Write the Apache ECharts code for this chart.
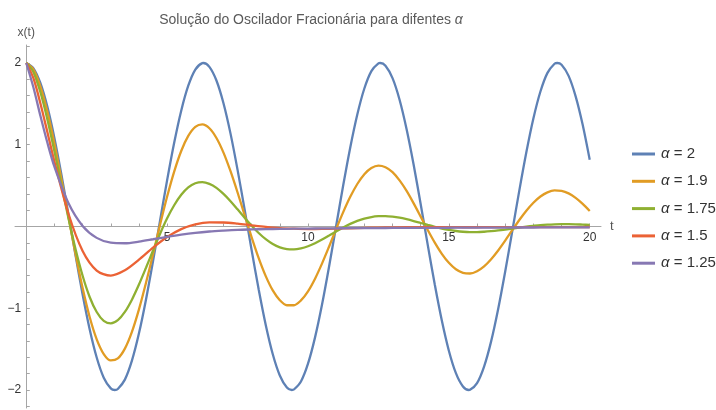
<!DOCTYPE html>
<html>
<head>
<meta charset="utf-8">
<script src="https://cdn.jsdelivr.net/npm/echarts@6/dist/echarts.min.js"></script>
<style>
html, body { margin: 0; padding: 0; background: #fff; }
#main { width: 716px; height: 410px; }
</style>
</head>
<body>
<div id="main"></div>
<script>
// t com passo 0.25 (curvas oscilantes)
var tFine = [0, 0.25, 0.5, 0.75, 1, 1.25, 1.5, 1.75, 2, 2.25,
	2.5, 2.75, 3, 3.25, 3.5, 3.75, 4, 4.25, 4.5, 4.75,
	5, 5.25, 5.5, 5.75, 6, 6.25, 6.5, 6.75, 7, 7.25,
	7.5, 7.75, 8, 8.25, 8.5, 8.75, 9, 9.25, 9.5, 9.75,
	10, 10.25, 10.5, 10.75, 11, 11.25, 11.5, 11.75, 12, 12.25,
	12.5, 12.75, 13, 13.25, 13.5, 13.75, 14, 14.25, 14.5, 14.75,
	15, 15.25, 15.5, 15.75, 16, 16.25, 16.5, 16.75, 17, 17.25,
	17.5, 17.75, 18, 18.25, 18.5, 18.75, 19, 19.25, 19.5, 19.75,
	20];
// t para alpha = 2 (passo 0.25 + picos)
var tAlpha200 = [0, 0.25, 0.5, 0.75, 1, 1.25, 1.5, 1.75, 2, 2.25,
	2.5, 2.75, 3, 3.1416, 3.25, 3.5, 3.75, 4, 4.25, 4.5, 4.75,
	5, 5.25, 5.5, 5.75, 6, 6.25, 6.2832, 6.5, 6.75, 7, 7.25,
	7.5, 7.75, 8, 8.25, 8.5, 8.75, 9, 9.25, 9.4248, 9.5, 9.75,
	10, 10.25, 10.5, 10.75, 11, 11.25, 11.5, 11.75, 12, 12.25,
	12.5, 12.5664, 12.75, 13, 13.25, 13.5, 13.75, 14, 14.25, 14.5, 14.75,
	15, 15.25, 15.5, 15.708, 15.75, 16, 16.25, 16.5, 16.75, 17, 17.25,
	17.5, 17.75, 18, 18.25, 18.5, 18.75, 18.8496, 19, 19.25, 19.5, 19.75,
	20];
// t mais espacado (curvas amortecidas)
var tCoarse = [0, 0.25, 0.5, 0.75, 1, 1.5, 2, 2.5, 3, 3.5, 4, 4.5, 5, 5.5, 6, 6.5, 7, 7.5, 8, 8.5, 9, 9.5,
	10, 10.5, 11, 11.5, 12, 12.5, 13, 13.5, 14, 14.5, 15, 15.5, 16, 16.5, 17, 17.5, 18, 18.5, 19, 19.5, 20];

// x(t) para cada alpha
var xAlpha200 = [2, 1.938, 1.755, 1.463, 1.081, 0.631, 0.141, -0.356, -0.832, -1.256,
	-1.602, -1.849, -1.980, -2, -1.988, -1.873, -1.641, -1.307, -0.892, -0.422, 0.075,
	0.567, 1.024, 1.417, 1.722, 1.920, 1.999, 2, 1.953, 1.786, 1.508, 1.136,
	0.693, 0.208, -0.291, -0.771, -1.204, -1.562, -1.822, -1.970, -2, -1.994, -1.895,
	-1.678, -1.356, -0.951, -0.486, 0.009, 0.504, 0.967, 1.370, 1.688, 1.901,
	1.996, 2, 1.966, 1.815, 1.551, 1.190, 0.756, 0.273, -0.225, -0.710, -1.150,
	-1.519, -1.794, -1.957, -2, -1.998, -1.915, -1.713, -1.405, -1.009, -0.550, -0.058,
	0.439, 0.908, 1.321, 1.651, 1.879, 1.990, 2, 1.977, 1.842, 1.592, 1.244,
	0.816];
var xAlpha190 = [2, 1.922, 1.715, 1.403, 1.013, 0.573, 0.112, -0.339, -0.753, -1.107,
	-1.380, -1.560, -1.638, -1.614, -1.494, -1.289, -1.014, -0.689, -0.336, 0.023,
	0.366, 0.672, 0.924, 1.108, 1.219, 1.249, 1.202, 1.083, 0.904, 0.676,
	0.416, 0.140, -0.132, -0.387, -0.607, -0.782, -0.902, -0.963, -0.963, -0.904,
	-0.793, -0.638, -0.451, -0.244, -0.030, 0.176, 0.363, 0.520, 0.640, 0.715,
	0.744, 0.725, 0.665, 0.564, 0.435, 0.283, 0.121, -0.043, -0.197, -0.334,
	-0.444, -0.523, -0.566, -0.575, -0.547, -0.488, -0.400, -0.293, -0.172, -0.045,
	0.079, 0.193, 0.291, 0.367, 0.418, 0.441, 0.436, 0.405, 0.350, 0.276,
	0.189];
var xAlpha175 = [2, 1.891, 1.645, 1.309, 0.918, 0.505, 0.098, -0.278, -0.602, -0.862,
	-1.046, -1.154, -1.185, -1.146, -1.045, -0.895, -0.710, -0.505, -0.294, -0.088,
	0.100, 0.260, 0.388, 0.478, 0.529, 0.543, 0.522, 0.473, 0.399, 0.310,
	0.210, 0.108, 0.010, -0.079, -0.155, -0.214, -0.255, -0.277, -0.281, -0.268,
	-0.242, -0.204, -0.159, -0.110, -0.060, -0.011, 0.032, 0.068, 0.097, 0.116,
	0.126, 0.128, 0.121, 0.108, 0.089, 0.067, 0.043, 0.019, -0.004, -0.025,
	-0.042, -0.055, -0.064, -0.068, -0.068, -0.064, -0.057, -0.048, -0.037, -0.025,
	-0.013, -0.002, 0.008, 0.017, 0.023, 0.027, 0.029, 0.029, 0.027, 0.023,
	0.019];
var xAlpha150 = [2, 1.817, 1.508, 1.153, 0.793, 0.153, -0.299, -0.539, -0.600, -0.536, -0.406, -0.259, -0.129, -0.032, 0.026, 0.050,
	0.049, 0.035, 0.015, -0.004, -0.019, -0.027, -0.031, -0.030, -0.026, -0.022, -0.017, -0.014, -0.011, -0.009, -0.009, -0.008,
	-0.008, -0.009, -0.009, -0.008, -0.008, -0.008, -0.008, -0.007, -0.007, -0.007, -0.006];
var xAlpha125 = [2, 1.706, 1.356, 1.024, 0.731, 0.284, 0.007, -0.139, -0.198, -0.205, -0.185, -0.156, -0.126, -0.099, -0.077, -0.061,
	-0.050, -0.041, -0.036, -0.032, -0.029, -0.027, -0.025, -0.024, -0.022, -0.021, -0.020, -0.019, -0.018, -0.017, -0.016, -0.016,
	-0.015, -0.014, -0.014, -0.013, -0.013, -0.012, -0.012, -0.011, -0.011, -0.011, -0.010];

var seriesNames = ['α = 2', 'α = 1.9', 'α = 1.75', 'α = 1.5', 'α = 1.25'];
var seriesColors = ['#5E81B5', '#E19C24', '#8FB032', '#EB6235', '#8778B3'];
var xTickLabels = [5, 10, 15, 20];
var yTickLabels = [-2, -1, 1, 2];

var fonte = '"Liberation Sans", Arial, sans-serif';
var corEixo = '#a6a6a6';
var corTexto = '#333';

// faixa dos eixos e tamanho da area do grafico
var xMin = -0.4, xMax = 20.4, yMin = -2.22, yMax = 2.22;
var gridLeft = 15, gridRight = 115, gridTop = 45, gridBottom = 2;
var plotW = 716 - gridLeft - gridRight;
var plotH = 410 - gridTop - gridBottom;

// ticks menores
var xTicks = [];
for (var i = 1; i <= 20; i++) xTicks.push(i);
var yTicks = [];
for (var k = -11; k <= 11; k++) { if (k != 0) yTicks.push(Math.round(k * 20) / 100); }

function pares(ts, ys) {
	return ts.map(function(t, i) { return [t, ys[i]]; });
}

var dados = [[tAlpha200, xAlpha200], [tFine, xAlpha190], [tFine, xAlpha175], [tCoarse, xAlpha150], [tCoarse, xAlpha125]];
var listaSeries = [];
for (var s = 0; s < dados.length; s++) {
	listaSeries.push({
		name: seriesNames[s],
		type: 'line',
		data: pares(dados[s][0], dados[s][1]),
		smooth: 0.3,
		symbol: 'none',
		lineStyle: { width: 2.3, color: seriesColors[s] },
		itemStyle: { color: seriesColors[s] },
		emphasis: { disabled: true }
	});
}

var myChart = echarts.init(document.getElementById('main'));
var option = {
	animation: false,
	title: {
		text: 'Solução do Oscilador Fracionária para difentes {i|α}',
		left: 306,
		textAlign: 'center',
		top: 8,
		textStyle: {
			fontFamily: fonte, fontSize: 14, fontWeight: 'normal', color: '#5a5a5a',
			rich: { i: { fontFamily: fonte, fontSize: 14, fontStyle: 'italic', color: '#5a5a5a' } }
		}
	},
	legend: {
		data: seriesNames,
		orient: 'vertical',
		left: 627,
		top: 140,
		icon: 'rect',
		itemWidth: 23,
		itemHeight: 3,
		itemGap: 9.3,
		formatter: function(name) { return name.replace('α', '{i|α}'); },
		textStyle: {
			fontFamily: fonte, fontSize: 15, color: corTexto, lineHeight: 18, padding: [0, 0, 0, 1],
			rich: { i: { fontFamily: fonte, fontSize: 15, fontStyle: 'italic', color: corTexto, lineHeight: 18 } }
		}
	},
	grid: {
		left: gridLeft, right: gridRight, top: gridTop, bottom: gridBottom,
		containLabel: false, outerBoundsMode: 'none'
	},
	xAxis: {
		type: 'value',
		min: xMin,
		max: xMax,
		position: 'bottom',
		// eixo passa por x = 0
		offset: -plotH * (0 - yMin) / (yMax - yMin),
		name: 't',
		nameLocation: 'end',
		nameGap: 9,
		nameTextStyle: { fontFamily: fonte, fontSize: 13, color: '#555' },
		axisLine: { onZero: false, lineStyle: { color: corEixo, width: 1 } },
		axisTick: { show: true, inside: true, length: 3, customValues: xTicks, lineStyle: { color: corEixo } },
		axisLabel: {
			customValues: xTickLabels,
			margin: 5,
			fontFamily: fonte, fontSize: 12, color: corTexto,
			formatter: function(v) { return String(v); }
		},
		splitLine: { show: false }
	},
	yAxis: {
		type: 'value',
		min: yMin,
		max: yMax,
		position: 'left',
		// eixo passa por t = 0
		offset: -plotW * (0 - xMin) / (xMax - xMin),
		name: 'x(t)',
		nameLocation: 'end',
		nameGap: 6,
		nameTextStyle: { fontFamily: fonte, fontSize: 12, color: '#555' },
		axisLine: { onZero: false, lineStyle: { color: corEixo, width: 1 } },
		axisTick: { show: true, inside: true, length: 3.5, customValues: yTicks, lineStyle: { color: corEixo } },
		axisLabel: {
			customValues: yTickLabels,
			margin: 5,
			fontFamily: fonte, fontSize: 12, color: corTexto,
			formatter: function(v) { return String(v).replace('-', '\u2212'); }
		},
		splitLine: { show: false }
	},
	series: listaSeries
};
myChart.setOption(option);
</script>
</body>
</html>
